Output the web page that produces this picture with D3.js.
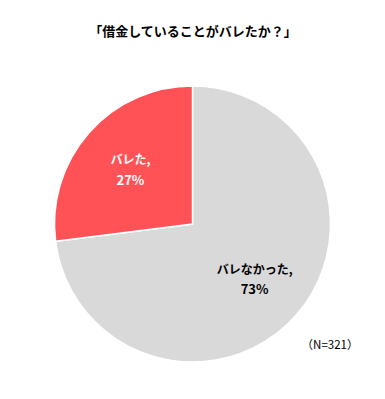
<!DOCTYPE html>
<html>
<head>
<meta charset="utf-8">
<script src="https://cdn.jsdelivr.net/npm/d3@7"></script>
<style>
  body { margin: 0; background: #fff; }
  text { font-family: "Noto Sans CJK JP", "Noto Sans", sans-serif; }
</style>
</head>
<body>
<svg id="chart" width="385" height="399"></svg>
<script>
var categories = ["バレなかった", "バレた"];
var values = [73, 27];
var colors = ["#d9d9d9", "#ff5257"];
var labelColors = ["#000", "#fff"];

var svg = d3.select("#chart");
var cx = 192.5, cy = 224, r = 138;

svg.append("text")
  .attr("x", 193)
  .attr("y", 36)
  .attr("text-anchor", "middle")
  .attr("font-size", 13)
  .attr("font-weight", "bold")
  .text("「借金していることがバレたか？」");

var pie = d3.pie().sort(null).value(function(d) { return d; });
var arcs = pie(values);
var arc = d3.arc().innerRadius(0).outerRadius(r);

var g = svg.append("g").attr("transform", "translate(" + cx + "," + cy + ")");

g.selectAll("path")
  .data(arcs)
  .enter().append("path")
  .attr("d", arc)
  .attr("fill", function(d, i) { return colors[i]; })
  .attr("stroke", "#fff")
  .attr("stroke-width", 1.5);

// labels sit a bit past the middle of each slice
var labelArc = d3.arc().innerRadius(r * 0.6).outerRadius(r * 0.6);

var lab = g.selectAll(".lab")
  .data(arcs)
  .enter().append("text")
  .attr("class", "lab")
  .attr("transform", function(d) { return "translate(" + labelArc.centroid(d) + ")"; })
  .attr("text-anchor", "middle")
  .attr("font-weight", "bold")
  .attr("fill", function(d, i) { return labelColors[i]; });

lab.append("tspan")
  .attr("x", 0)
  .attr("dy", "-0.4em")
  .attr("font-size", 12)
  .text(function(d, i) { return categories[i] + ","; });
lab.append("tspan")
  .attr("x", 0)
  .attr("dy", "1.55em")
  .attr("font-size", 13)
  .text(function(d) { return d.data + "%"; });

svg.append("text")
  .attr("x", 330)
  .attr("y", 349)
  .attr("text-anchor", "middle")
  .attr("font-size", 11.5)
  .text("（N=321）");
</script>
</body>
</html>
